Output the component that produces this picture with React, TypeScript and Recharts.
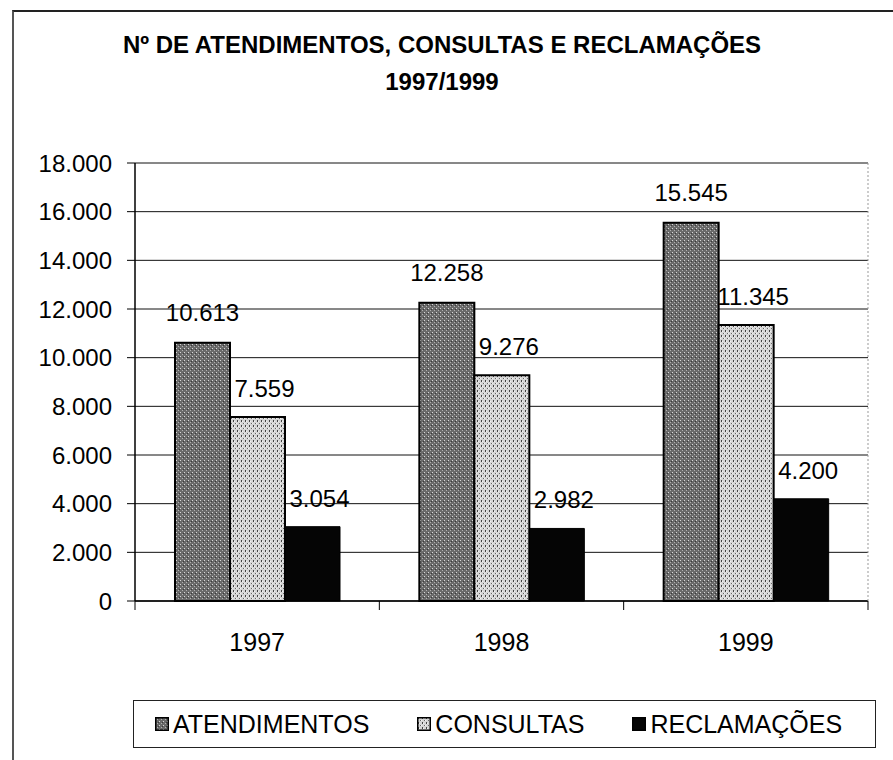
import React from 'react';
import { BarChart, Bar, XAxis, YAxis, CartesianGrid, Legend, LabelList } from 'recharts';

// valores
const categories = ['1997', '1998', '1999'];
const atendimentos = [10613, 12258, 15545];
const consultas = [7559, 9276, 11345];
const reclamacoes = [3054, 2982, 4200];
const yTicks = [0, 2000, 4000, 6000, 8000, 10000, 12000, 14000, 16000, 18000];
const titleLines = ['Nº DE ATENDIMENTOS, CONSULTAS E RECLAMAÇÕES', '1997/1999'];

const FONT = '"Liberation Sans", Arial, Helvetica, sans-serif';

const data = categories.map((ano, i) => ({
  ano,
  atendimentos: atendimentos[i],
  consultas: consultas[i],
  reclamacoes: reclamacoes[i],
}));

// separador de milhar com ponto
const fmt = (v: number) => String(v).replace(/\B(?=(\d{3})+(?!\d))/g, '.');

const patternOf: Record<string, string> = {
  atendimentos: 'url(#patAtend)',
  consultas: 'url(#patCons)',
  reclamacoes: '#050505',
};

function Patterns() {
  return (
    <svg width={0} height={0} style={{ position: 'absolute' }}>
      <defs>
        <pattern id="patAtend" width={4} height={4} patternUnits="userSpaceOnUse">
          <rect width={4} height={4} fill="#6a6a6a" />
          <rect x={0} y={0} width={1} height={1} fill="#d8d8d8" />
          <rect x={2} y={2} width={1} height={1} fill="#b0b0b0" />
          <rect x={3} y={1} width={1} height={1} fill="#3a3a3a" />
        </pattern>
        <pattern id="patCons" width={4} height={5} patternUnits="userSpaceOnUse">
          <rect width={4} height={5} fill="#d6d6d6" />
          <rect x={1} y={0} width={1} height={2} fill="#444" />
          <rect x={3} y={3} width={1} height={1} fill="#666" />
          <rect x={0} y={3} width={1} height={1} fill="#f4f4f4" />
          <rect x={2} y={1} width={1} height={1} fill="#f4f4f4" />
        </pattern>
      </defs>
    </svg>
  );
}

function YearTick(props: any) {
  const { x, y, payload, index } = props;
  const half = payload?.offset ?? 0;
  return (
    <g>
      <text x={x} y={y + 50} textAnchor="middle" fontSize={25} fill="#000" fontFamily={FONT}>
        {payload.value}
      </text>
      <line x1={x - half} x2={x - half} y1={y} y2={y + 9} stroke="#000" strokeWidth={1} />
      {index === categories.length - 1 && (
        <line x1={x + half} x2={x + half} y1={y} y2={y + 9} stroke="#000" strokeWidth={1} />
      )}
    </g>
  );
}

function LegendBox(props: any) {
  const { payload = [] } = props;
  return (
    <div
      style={{
        boxSizing: 'border-box',
        width: 743,
        height: 48,
        border: '1.5px solid #222',
        display: 'flex',
        alignItems: 'center',
        paddingLeft: 21,
        fontFamily: FONT,
        fontSize: 25,
        color: '#000',
      }}
    >
      {payload.map((p: any, i: number) => (
        <div key={p.value} style={{ display: 'flex', alignItems: 'center', marginRight: i < payload.length - 1 ? 48 : 0 }}>
          <svg width={14} height={14} style={{ marginRight: 4 }}>
            <rect x={0.75} y={0.75} width={12.5} height={12.5} fill={patternOf[p.dataKey]} stroke="#000" strokeWidth={1.5} />
          </svg>
          <span>{p.value}</span>
        </div>
      ))}
    </div>
  );
}

export default function App() {
  return (
    <div style={{ position: 'absolute', left: 0, top: 0, width: 893, height: 760, overflow: 'hidden', background: '#fff' }}>
      <Patterns />
      {/* moldura do gráfico */}
      <div
        style={{
          position: 'absolute',
          left: 12,
          top: 10,
          width: 900,
          height: 760,
          borderLeft: '2px solid #555',
          borderTop: '2px solid #222',
        }}
      />
      <div
        style={{
          position: 'absolute',
          left: 0,
          top: 26,
          width: 884,
          textAlign: 'center',
          fontFamily: FONT,
          fontWeight: 'bold',
          fontSize: 24,
          lineHeight: '37px',
          color: '#000',
        }}
      >
        {titleLines.map(t => (
          <div key={t}>{t}</div>
        ))}
      </div>
      <BarChart
        width={893}
        height={760}
        data={data}
        margin={{ top: 163, right: 24, bottom: 51, left: 0 }}
        barCategoryGap={40}
        barGap={0}
        style={{ position: 'absolute', left: 0, top: 0 }}
      >
        <CartesianGrid vertical={false} stroke="#111" strokeWidth={1} />
        <XAxis
          dataKey="ano"
          height={60}
          axisLine={{ stroke: '#000', strokeWidth: 1.5 }}
          tickLine={false}
          tickSize={0}
          tickMargin={0}
          tick={<YearTick />}
          interval={0}
        />
        <YAxis
          domain={[0, 18000]}
          ticks={yTicks}
          width={135}
          interval={0}
          tickFormatter={fmt}
          axisLine={{ stroke: '#000', strokeWidth: 1.5 }}
          tickLine={{ stroke: '#000' }}
          tickSize={8}
          tickMargin={15}
          tick={{ fontSize: 24, fill: '#000', fontFamily: FONT }}
        />
        <YAxis
          yAxisId="borda"
          orientation="right"
          width={1}
          tick={false}
          tickLine={false}
          axisLine={{ stroke: '#999', strokeDasharray: '2 2' }}
        />
        <Legend
          verticalAlign="bottom"
          content={<LegendBox />}
          wrapperStyle={{ top: 700, left: 133, bottom: 'auto', width: 743, height: 48 }}
        />
        <Bar dataKey="atendimentos" name="ATENDIMENTOS" fill={patternOf.atendimentos} stroke="#000" strokeWidth={2} isAnimationActive={false}>
          <LabelList dataKey="atendimentos" position="top" offset={22} formatter={fmt} fontSize={24} fill="#000" fontFamily={FONT} />
        </Bar>
        <Bar dataKey="consultas" name="CONSULTAS" fill={patternOf.consultas} stroke="#000" strokeWidth={2} isAnimationActive={false}>
          <LabelList dataKey="consultas" position="top" offset={20} dx={7} formatter={fmt} fontSize={24} fill="#000" fontFamily={FONT} />
        </Bar>
        <Bar dataKey="reclamacoes" name="RECLAMAÇÕES" fill={patternOf.reclamacoes} stroke="#000" strokeWidth={1} isAnimationActive={false}>
          <LabelList dataKey="reclamacoes" position="top" offset={20} dx={7} formatter={fmt} fontSize={24} fill="#000" fontFamily={FONT} />
        </Bar>
      </BarChart>
    </div>
  );
}
